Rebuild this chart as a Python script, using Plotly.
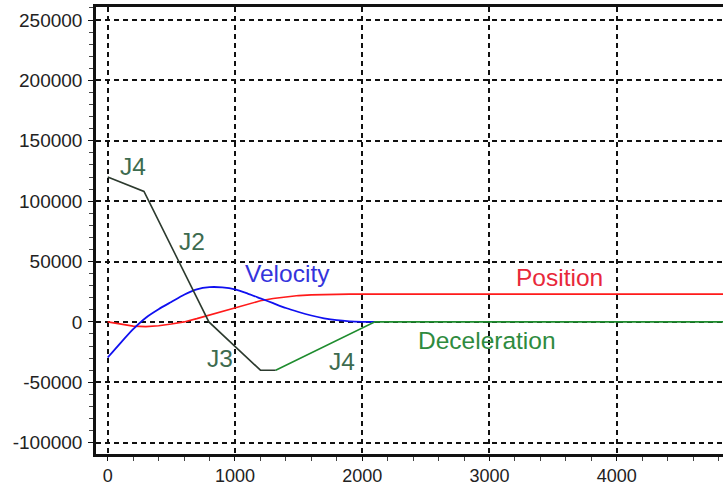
import plotly.graph_objects as go

# Motion profile samples (time axis in ms)
t_profile = [0, 100, 200, 300, 400, 500, 600, 700, 800, 900, 1000, 1100,
             1200, 1300, 1400, 1500, 1600, 1700, 1800, 1900, 2000, 2100]
velocity = [-29500, -17500, -6000, 3500, 10500, 16500, 22500, 27000, 28800,
            28600, 27000, 23500, 19500, 15500, 11500, 8200, 5300, 3000, 1400,
            500, 100, 0]

t_position = [0, 100, 200, 300, 400, 500, 600, 700, 800, 900, 1000, 1100,
              1200, 1300, 1400, 1500, 1600, 1700, 1800, 1900, 2000, 5000]
position = [0, -2000, -3500, -3900, -3200, -1800, 0, 2700, 5600, 8500, 11800,
            14900, 17500, 19400, 20800, 21800, 22400, 22750, 22900, 23000,
            23000, 23000]

# Jerk-limited deceleration segments
t_decel = [0, 285, 795, 1200, 1320, 2100, 5000]
decel = [120000, 108000, 0, -40000, -40000, 0, 0]

x_ticks = [0, 1000, 2000, 3000, 4000]
y_ticks = [-100000, -50000, 0, 50000, 100000, 150000, 200000, 250000]

curve_labels = ["J4", "J2", "J3", "J4", "Velocity", "Position", "Deceleration"]
label_x = [195, 660, 880, 1840, 1410, 3550, 2980]
label_y = [129000, 67000, -30000, -33000, 40000, 37000, -15000]
label_colors = ["#3d6b4f", "#3d6b4f", "#3d6b4f", "#3d6b4f",
                "#3434dc", "#e8283a", "#2e8b3e"]

FONT = "Liberation Sans, Arial, sans-serif"

fig = go.Figure()

fig.add_trace(go.Scatter(x=t_position, y=position, mode="lines",
                         line=dict(color="#ff1a1a", width=1.6)))
fig.add_trace(go.Scatter(x=t_profile, y=velocity, mode="lines",
                         line=dict(color="#1010f0", width=1.8, shape="spline",
                                   smoothing=0.6)))
# deceleration: dark ramp-down part, green recovery part
fig.add_trace(go.Scatter(x=t_decel[:5], y=decel[:5], mode="lines",
                         line=dict(color="#2c3a2e", width=1.6)))
fig.add_trace(go.Scatter(x=t_decel[4:], y=decel[4:], mode="lines",
                         line=dict(color="#1e8c2e", width=1.6)))

for txt, lx, ly, col in zip(curve_labels, label_x, label_y, label_colors):
    fig.add_annotation(x=lx, y=ly, text=txt, showarrow=False,
                       font=dict(family=FONT, size=24.5, color=col),
                       xanchor="center", yanchor="middle")

fig.update_xaxes(
    range=[-92, 4835], tickvals=x_ticks, ticktext=[str(v) for v in x_ticks],
    showline=True, linecolor="#111111", linewidth=2.5, mirror=True,
    ticks="outside", ticklen=4, tickwidth=1.2, tickcolor="#111111",
    showgrid=True, gridcolor="#111111", gridwidth=1.8, griddash="5px,4px",
    zeroline=False, automargin=False, ticklabelstandoff=0,
    tickfont=dict(family=FONT, size=18, color="#222222"),
    minor=dict(dtick=200, tick0=0, ticks="outside", ticklen=4,
               tickcolor="#444444", showgrid=False),
)
fig.update_yaxes(
    range=[-109400, 260800], tickvals=y_ticks, ticktext=[str(v) for v in y_ticks],
    showline=True, linecolor="#111111", linewidth=2.5,
    ticks="outside", ticklen=5, tickwidth=1.2, tickcolor="#111111",
    showgrid=True, gridcolor="#111111", gridwidth=1.8, griddash="5px,4px",
    zeroline=False, automargin=False, ticklabelstandoff=2,
    tickfont=dict(family=FONT, size=19, color="#222222"),
    minor=dict(dtick=10000, tick0=0, ticks="outside", ticklen=4,
               tickcolor="#444444", showgrid=False),
)

fig.update_layout(
    width=723, height=484,
    margin=dict(l=96, r=0, t=7, b=30),
    paper_bgcolor="white", plot_bgcolor="white",
    showlegend=False,
)

fig.write_html("out.html")
